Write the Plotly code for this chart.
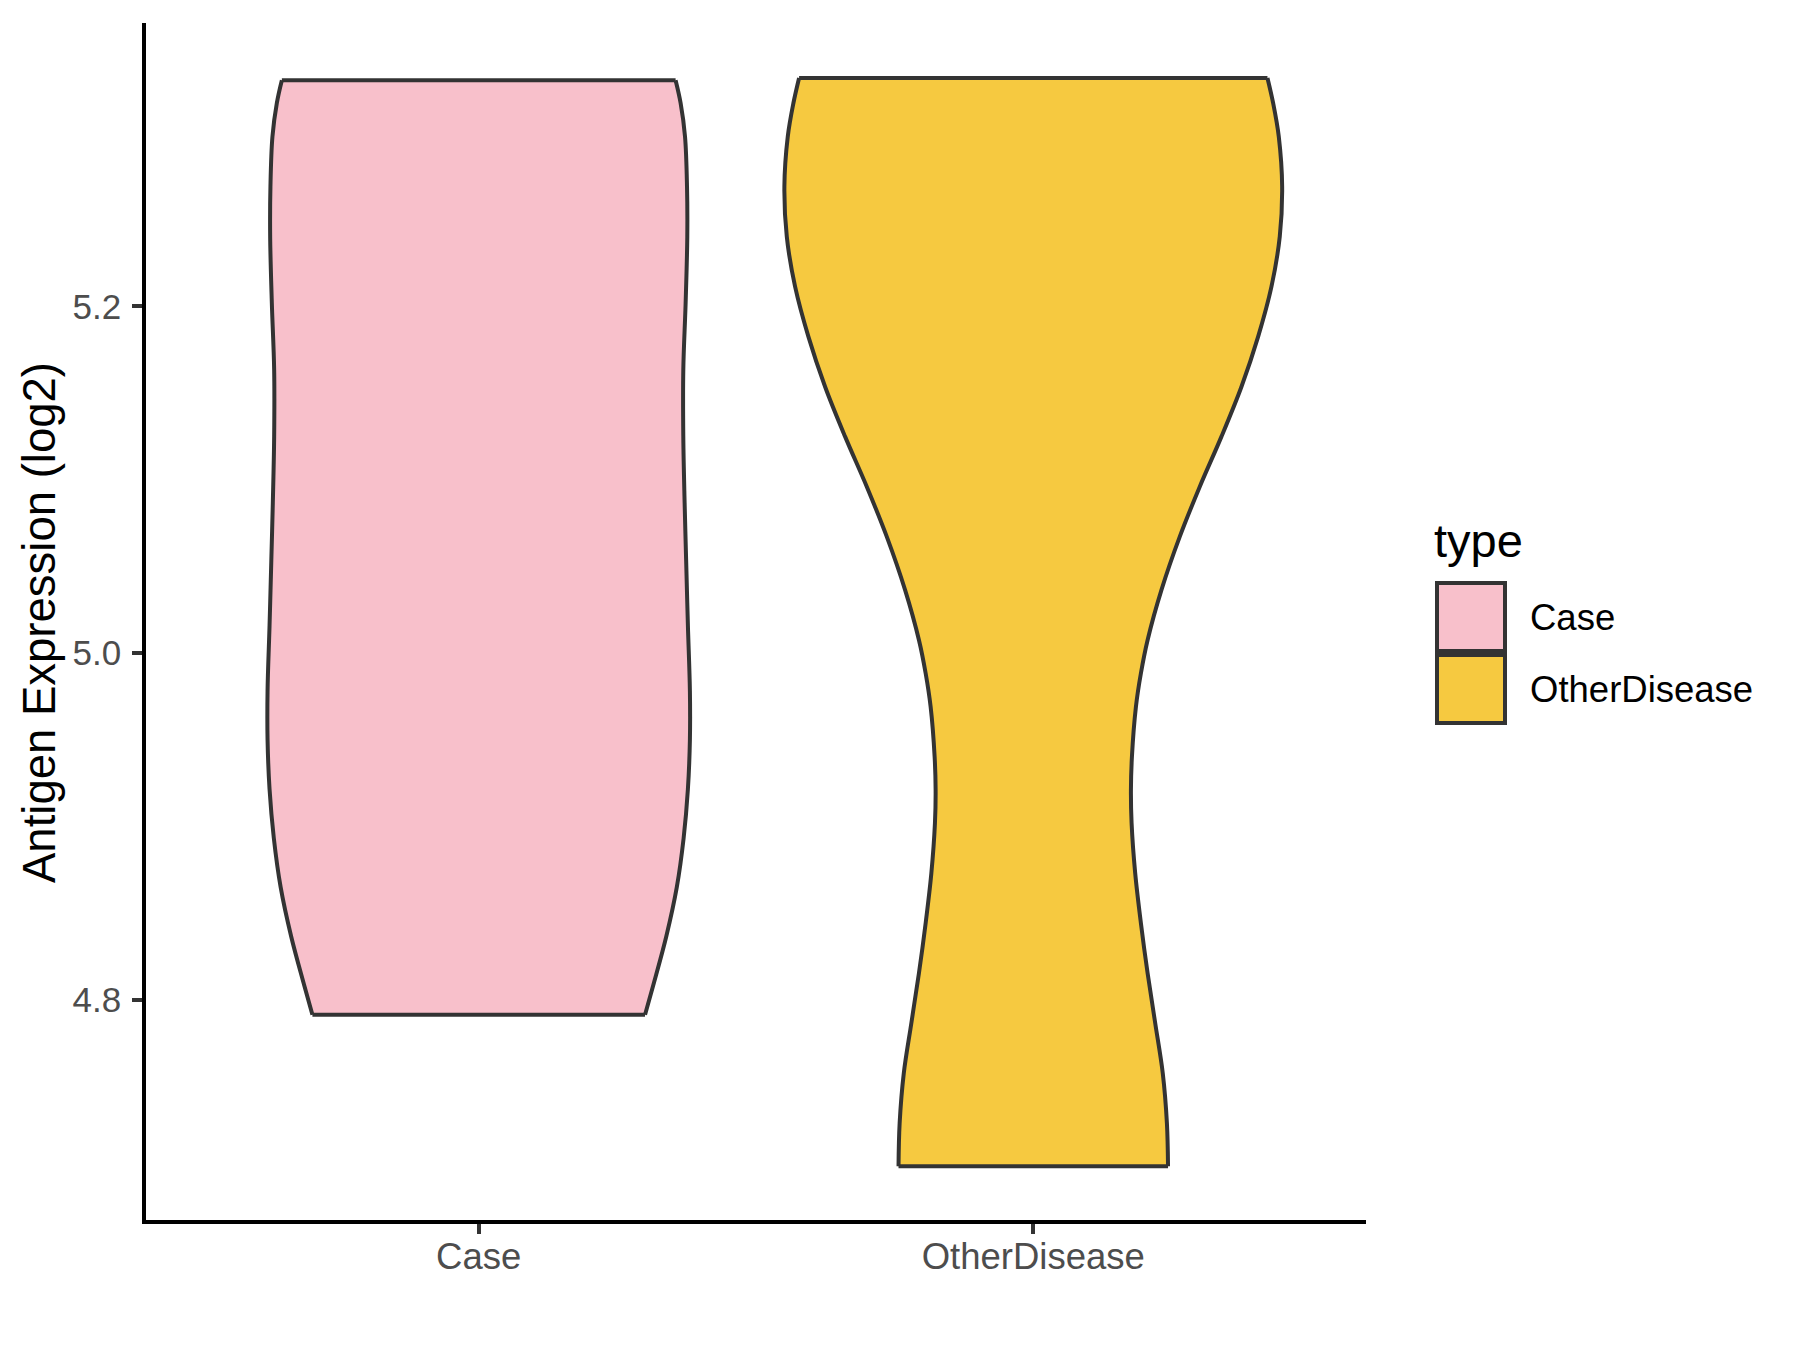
import plotly.graph_objects as go

# ---------------- data ----------------
categories = ["Case", "OtherDisease"]
fill_colors = ["#F8C0CB", "#F6C940"]

# violin outline profiles: expression level (log2) and half-width (x units)
case_y = [5.3305, 5.3174, 5.2980, 5.2691, 5.2403, 5.2020, 5.1634, 5.1249, 5.0866, 5.0538,
          5.0160, 4.9783, 4.9499, 4.9216, 4.8933, 4.8650, 4.8367, 4.8083, 4.7914]
case_hw = [0.355, 0.364, 0.372, 0.3756, 0.3761, 0.3731, 0.3689, 0.3689, 0.3713, 0.3740,
           0.3772, 0.3808, 0.3808, 0.3772, 0.3695, 0.3572, 0.3383, 0.3146, 0.2999]

other_y = [5.3318, 5.3172, 5.2980, 5.2691, 5.2403, 5.2114, 5.1826, 5.1537, 5.1249, 5.0960,
           5.0672, 5.0365, 5.0076, 4.9884, 4.9691, 4.9403, 4.9211, 4.9019, 4.8730, 4.8442,
           4.8153, 4.7865, 4.7577, 4.7288, 4.7040]
other_hw = [0.4223, 0.4326, 0.4427, 0.4488, 0.4445, 0.4295, 0.4055, 0.3754, 0.3393, 0.3002,
            0.2642, 0.2312, 0.2062, 0.1941, 0.1851, 0.1779, 0.1761, 0.1773, 0.1838, 0.1941,
            0.2062, 0.2199, 0.2335, 0.2410, 0.2430]

y_ticks = [4.8, 5.0, 5.2]
y_title = "Antigen Expression (log2)"
legend_title = "type"

profiles = [(case_y, case_hw), (other_y, other_hw)]

# ---------------- layout constants ----------------
W, H = 1800, 1350
OFF = 8  # page body margin offset
ML, MR, MT, MB = 138, 442, 15, 138
PW, PH = W - ML - MR, H - MT - MB
FONT = "Liberation Sans, Arial, sans-serif"
OUTLINE = "#333333"
LW = 4

def px_x(p):
    return (p - OFF - ML) / PW

def px_y(p):
    return (H - MB - (p - OFF)) / PH

fig = go.Figure()

for i, (cat, col, (ys, hws)) in enumerate(zip(categories, fill_colors, profiles)):
    c = i + 1
    left = [c - h for h in hws]
    right = [c + h for h in hws]
    fig.add_trace(go.Scatter(x=left, y=ys, mode="lines",
                             line=dict(color=OUTLINE, width=LW, shape="spline", smoothing=1.0),
                             showlegend=False, hoverinfo="skip"))
    fig.add_trace(go.Scatter(x=right, y=ys, mode="lines", fill="tonextx", fillcolor=col,
                             line=dict(color=OUTLINE, width=LW, shape="spline", smoothing=1.0),
                             showlegend=False, name=cat))
    # flat top and bottom edges
    for k in (0, -1):
        fig.add_trace(go.Scatter(x=[left[k], right[k]], y=[ys[k], ys[k]], mode="lines",
                                 line=dict(color=OUTLINE, width=LW), showlegend=False, hoverinfo="skip"))

# ---------------- custom legend ----------------
shapes = []
annotations = []
key_left, key_size, key_top, key_gap = 1437, 68, 583, 4
for i, (cat, col) in enumerate(zip(categories, fill_colors)):
    top = key_top + i * (key_size + key_gap)
    shapes.append(dict(type="rect", xref="paper", yref="paper",
                       x0=px_x(key_left), x1=px_x(key_left + key_size),
                       y0=px_y(top + key_size), y1=px_y(top),
                       fillcolor=col, line=dict(color=OUTLINE, width=LW)))
    annotations.append(dict(xref="paper", yref="paper", x=px_x(1528), y=px_y(top + key_size / 2),
                            text=cat, showarrow=False, xanchor="left", yanchor="middle",
                            font=dict(family=FONT, size=36.5, color="black")))
annotations.append(dict(xref="paper", yref="paper", x=px_x(1432), y=px_y(540),
                        text=legend_title, showarrow=False, xanchor="left", yanchor="middle",
                        font=dict(family=FONT, size=47, color="black")))
annotations.append(dict(xref="paper", yref="paper", x=px_x(39), y=px_y(623), text=y_title, textangle=-90,
                        showarrow=False, xanchor="center", yanchor="middle",
                        font=dict(family=FONT, size=45.5, color="black")))

fig.update_layout(
    width=W, height=H,
    margin=dict(l=ML, r=MR, t=MT, b=MB),
    paper_bgcolor="white", plot_bgcolor="white",
    showlegend=False,
    shapes=shapes, annotations=annotations,
    font=dict(family=FONT),
)
fig.update_xaxes(range=[0.4, 2.6], tickvals=[1, 2], ticktext=categories,
                 showline=True, linecolor="black", linewidth=3.5, showgrid=False, zeroline=False,
                 ticks="outside", ticklen=10, tickwidth=3.5, tickcolor="#333333", ticklabelstandoff=-9,
                 tickfont=dict(family=FONT, size=36.5, color="#4D4D4D"))
fig.update_yaxes(range=[4.673, 5.3635], tickvals=y_ticks, tickformat=".1f",
                 showline=True, linecolor="black", linewidth=3.5, showgrid=False, zeroline=False,
                 ticks="outside", ticklen=10, tickwidth=3.5, tickcolor="#333333", ticklabelstandoff=4,
                 tickfont=dict(family=FONT, size=35, color="#4D4D4D"))

fig.write_html("out.html")
